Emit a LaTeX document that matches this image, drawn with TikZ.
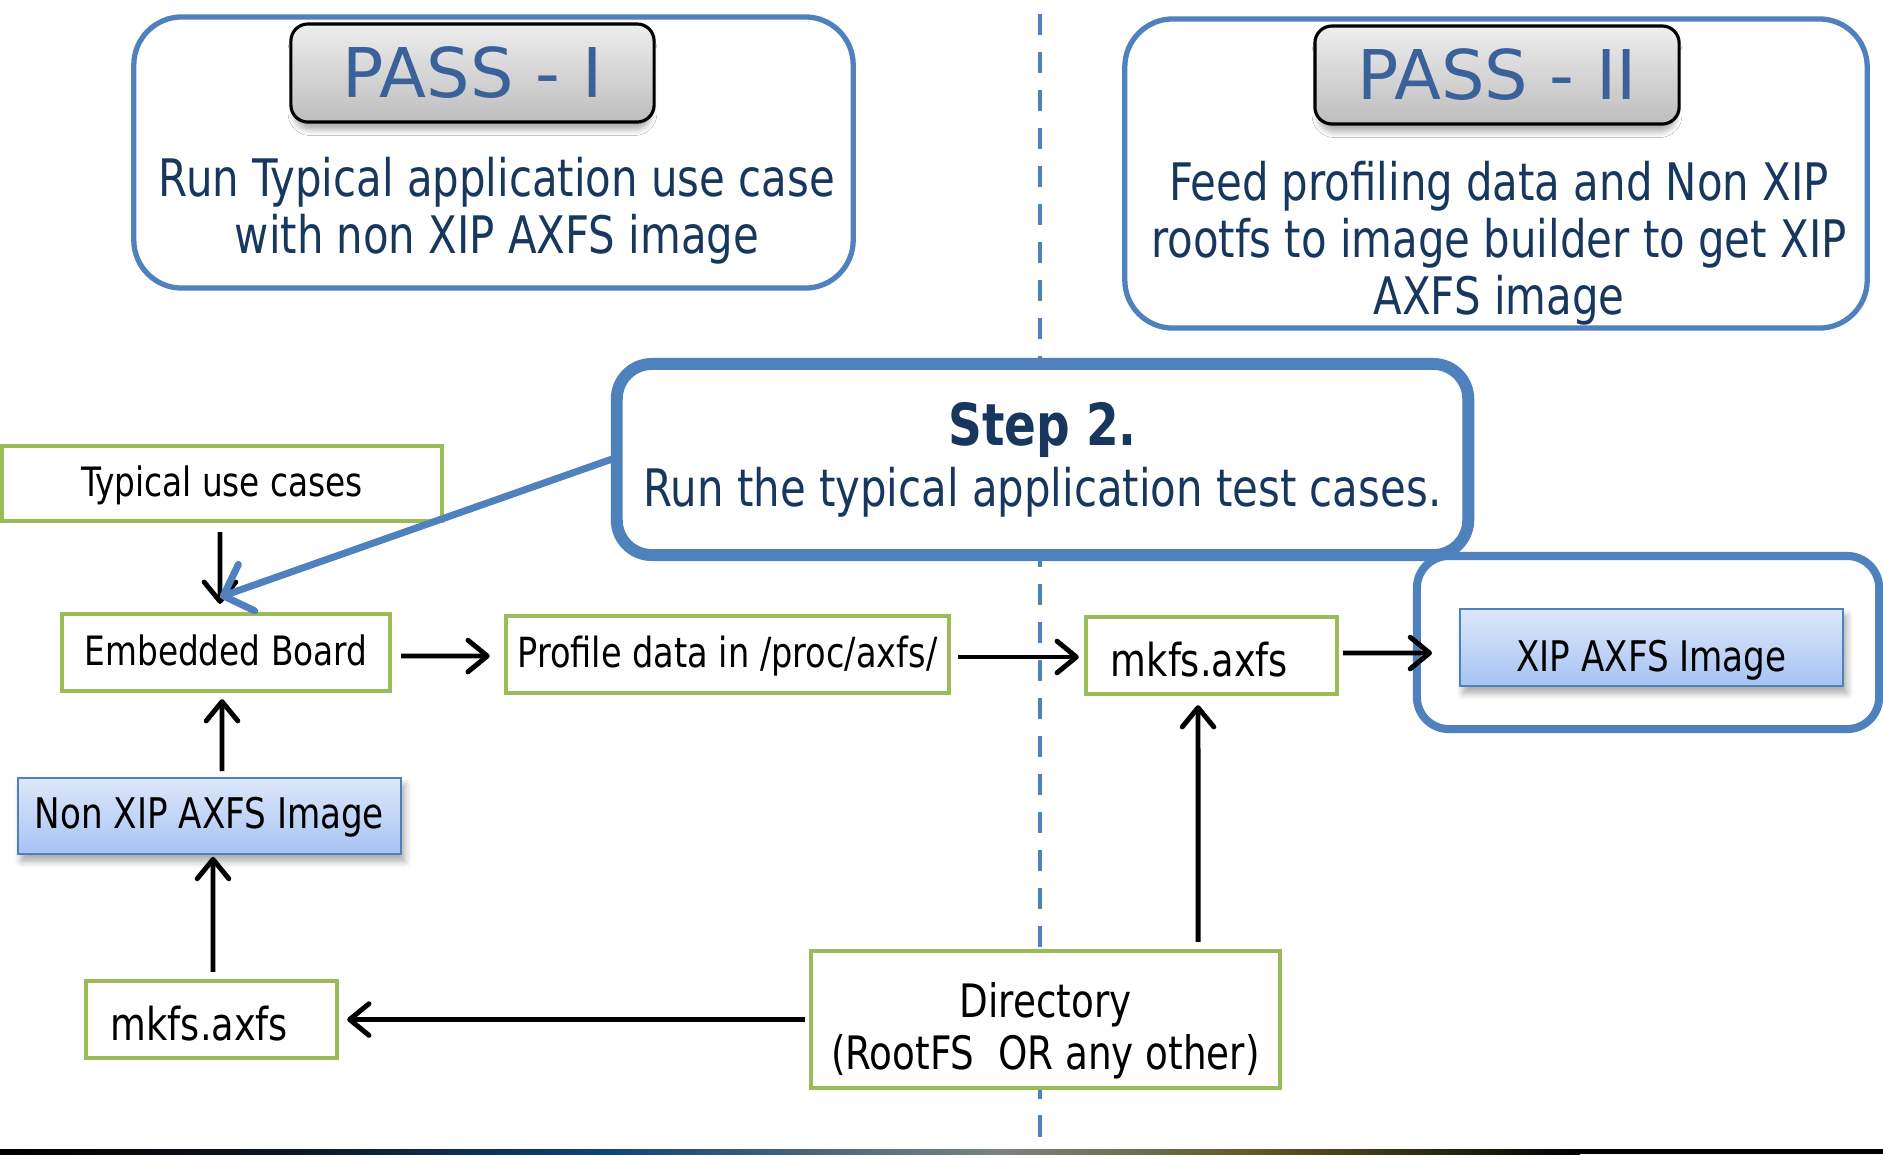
\documentclass[tikz,border=0pt]{standalone}
\usepackage{fontspec}
\setmainfont{DejaVu Sans Condensed}[FakeStretch=0.9]
\newfontfamily\titlefont{DejaVu Sans}
\usetikzlibrary{arrows.meta,shadows.blur}

\definecolor{frameblue}{HTML}{4F81BD}
\definecolor{titleblue}{HTML}{3A6199}
\definecolor{navy}{HTML}{17375E}
\definecolor{leafgreen}{HTML}{9BBB59}
\definecolor{imgtop}{HTML}{DDE8FB}
\definecolor{imgbottom}{HTML}{A6C3F3}
\definecolor{btntop}{HTML}{EEEEEE}
\definecolor{btnbottom}{HTML}{BDBDBD}

\tikzset{
  passframe/.style={draw=frameblue, line width=1.5pt, fill=white, rounded corners=0.48cm},
  passbutton/.style={draw=black, line width=0.9pt, rounded corners=0.17cm,
    top color=btntop, bottom color=btnbottom, text=titleblue,
    font=\titlefont\fontsize{19.5}{22}\selectfont,
    blur shadow={shadow xshift=0pt, shadow yshift=-2.5pt, shadow scale=0.985, shadow blur steps=5, shadow opacity=30, shadow blur radius=1.6pt}},
  passtext/.style={text=navy, align=center, font=\fontsize{14.7}{16.2}\selectfont},
  stepframe/.style={draw=frameblue, line width=3.4pt, fill=white, rounded corners=0.35cm,
    text=navy, align=center, font=\fontsize{14.7}{17.4}\selectfont},
  greenframe/.style={draw=leafgreen, line width=1.2pt, fill=white, align=center,
    font=\fontsize{11.5}{14}\selectfont},
  greenbox/.style={greenframe, text height=0.73em, text depth=0pt},
  toolbox/.style={greenframe, font=\fontsize{12.9}{16}\selectfont, text height=12.2pt, text depth=0pt},
  imagebox/.style={draw=frameblue, line width=0.5pt, top color=imgtop, bottom color=imgbottom,
    font=\fontsize{12}{15}\selectfont, text height=0.73em, text depth=0pt,
    blur shadow={shadow xshift=1pt, shadow yshift=-2pt, shadow blur steps=5, shadow opacity=35, shadow blur radius=2pt}},
  holder/.style={draw=frameblue, line width=2.3pt, rounded corners=0.32cm},
  flow/.style={draw=black, line width=1.4pt,
    -{Straight Barb[length=5.5pt,width=9pt,line cap=round,line join=round]}},
  pointer/.style={draw=frameblue, line width=2pt, line cap=round,
    -{Straight Barb[length=7pt,width=14pt,line cap=round,line join=round]}},
  divider/.style={draw=frameblue, line width=1.4pt, dash pattern=on 6pt off 4.8pt}
}

\begin{document}
\begin{tikzpicture}[x=0.01cm, y=-0.01cm, inner sep=0pt]
\useasboundingbox (0,0) rectangle (1883,1154);

% thin gradient strip along the bottom edge
\shade[left color=black, right color=black!70!frameblue!60!black] (0,1149) rectangle (300,1154);
\shade[left color=black!70!frameblue!60!black, right color={rgb,255:red,18;green,66;blue,112}] (300,1149) rectangle (600,1154);
\shade[left color={rgb,255:red,18;green,66;blue,112}, right color={rgb,255:red,124;green,132;blue,128}] (600,1149) rectangle (1000,1154);
\shade[left color={rgb,255:red,124;green,132;blue,128}, right color={rgb,255:red,96;green,90;blue,42}] (1000,1149) rectangle (1250,1154);
\shade[left color={rgb,255:red,96;green,90;blue,42}, right color=black] (1250,1149) rectangle (1580,1154);
\fill[black] (1580,1149) rectangle (1883,1154);

% pass headers
\node[passframe, minimum width=7.19cm, minimum height=2.71cm] (pass1) at (493.5,152.5) {};
\node[passbutton, minimum width=3.63cm, minimum height=0.98cm] (pass1title) at (472.5,73) {PASS - I};
\node[passtext] (pass1text) at (497,211) {Run Typical application use case\\with non XIP AXFS image};

\node[passframe, minimum width=7.42cm, minimum height=3.09cm] (pass2) at (1496,173.5) {};
\node[passbutton, minimum width=3.64cm, minimum height=0.98cm] (pass2title) at (1497,75) {PASS - II};
\node[passtext] (pass2text) at (1499,243) {Feed profiling data and Non XIP\\rootfs to image builder to get XIP\\AXFS image};

% flow boxes
\node[greenbox, minimum width=4.40cm, minimum height=0.75cm] (typical) at (222,483.5) {Typical use cases};
\node[greenbox, minimum width=3.28cm, minimum height=0.77cm] (board) at (226,652.5) {Embedded Board};
\node[greenbox, minimum width=4.43cm, minimum height=0.77cm, font=\fontsize{11.8}{14}\selectfont] (profile) at (727.5,654.5) {Profile data in /proc/axfs/};
\node[toolbox, minimum width=2.51cm, minimum height=0.77cm] (mkfsright) at (1211.5,655.5) {mkfs.axfs\hspace{0.24cm}};
\node[toolbox, minimum width=2.51cm, minimum height=0.77cm] (mkfsleft) at (211.5,1019.5) {mkfs.axfs\hspace{0.24cm}};
\node[imagebox, minimum width=3.83cm, minimum height=0.76cm] (nonxip) at (209.5,816) {Non XIP AXFS Image};
\node[holder, minimum width=4.62cm, minimum height=1.73cm] (xipholder) at (1648,642.5) {};
\node[imagebox, minimum width=3.83cm, minimum height=0.77cm, text height=13.6pt] (xip) at (1651.5,647.5) {XIP AXFS Image};

% connectors
\draw[flow, shorten <=0.09cm, shorten >=0.08cm] ([xshift=-0.02cm]typical.south) -- ([xshift=-0.06cm]board.north);
\draw[flow, shorten <=0.06cm, shorten >=0.06cm] ([xshift=0.125cm]nonxip.north) -- ([xshift=-0.04cm]board.south);
\draw[flow, shorten <=0.07cm, shorten >=0.02cm] ([xshift=0.015cm]mkfsleft.north) -- ([xshift=0.035cm]nonxip.south);
\draw[flow, shorten <=0.09cm, shorten >=0.14cm] ([yshift=-0.035cm]board.east) -- ([yshift=-0.015cm]profile.west);
\draw[flow, shorten <=0.07cm, shorten >=0.05cm] ([yshift=-0.025cm]profile.east) -- ([yshift=-0.015cm]mkfsright.west);
\draw[flow, shorten <=0.04cm, shorten >=0.27cm] ([yshift=0.025cm]mkfsright.east) -- ([yshift=-0.055cm]xip.west);

% pass divider
\coordinate (divtop) at (1040,14);
\coordinate (divbottom) at (1040,1154);
\draw[divider] (divtop) -- (divbottom);

% source directory
\node[greenframe, minimum width=4.69cm, minimum height=1.37cm, font=\fontsize{13.1}{14.8}\selectfont] (dir) at (1045.5,1019.5) {\rule{0pt}{16.2pt}Directory\\(RootFS\ \ OR any other)};
\draw[flow, shorten <=0.07cm, shorten >=0.09cm] ([xshift=1.525cm]dir.north) -- ([xshift=-0.135cm]mkfsright.south);
\draw[flow, shorten <=0.04cm, shorten >=0.08cm] (dir.west) -- (mkfsleft.east);

% step callout
\node[stepframe, minimum width=8.51cm, minimum height=1.91cm] (step) at (1042.5,459.5) {{\bfseries\fontsize{16.5}{17.4}\selectfont Step 2.}\\Run the typical application test cases.};
\coordinate (steptip) at (220,597);
\draw[pointer] (step.west) -- (steptip);
\end{tikzpicture}
\end{document}
